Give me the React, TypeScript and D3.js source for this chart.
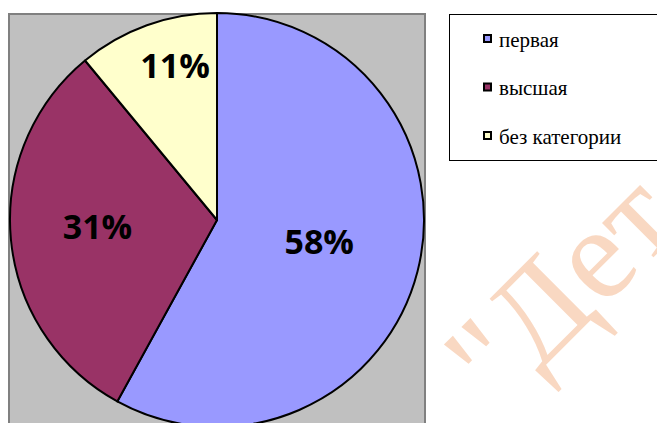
import React from 'react';
import * as d3 from 'd3';

// категории и доли (%)
const categories = ['первая', 'высшая', 'без категории'];
const shares = [58, 31, 11];
const colors = ['#9999FF', '#993366', '#FFFFCC'];
// радиус подписи как доля радиуса и сдвиг по x (подобрано по картинке)
const labelRadius = [0.51, 0.58, 0.77];
const labelShiftX = [0, 0, 12];

const W = 657;
const H = 423;

const App: React.FC = () => {
  const cx = 217;
  const cy = 220;
  const r = 207;

  const pie = d3.pie<number>().sort(null).value(d => d);
  const arcs = pie(shares);
  const arc = d3.arc<d3.PieArcDatum<number>>().innerRadius(0).outerRadius(r);

  const total = d3.sum(shares);

  // позиции легенды
  const legendY = d3.scalePoint<string>().domain(categories).range([38.5, 135.5]);

  return (
    <div style={{ position: 'absolute', left: 0, top: 0 }}>
      <svg width={W} height={H} style={{ display: 'block' }}>
        <rect width={W} height={H} fill="#ffffff" />

        {/* водяной знак */}
        <text
          transform="rotate(-45)"
          x={62}
          y={644}
          fontFamily="Liberation Serif"
          fontSize={132}
          fill="#F9D8C2"
        >
          {'"Дет'}
        </text>

        {/* область построения */}
        <rect x={9} y={14} width={416} height={430} fill="#C0C0C0" stroke="#808080" strokeWidth={2} />

        <g transform={`translate(${cx},${cy})`}>
          {arcs.map((a, i) => (
            <path key={i} d={arc(a) || ''} fill={colors[i]} stroke="#000" strokeWidth={2} strokeLinejoin="round" />
          ))}
          {arcs.map((a, i) => {
            const mid = (a.startAngle + a.endAngle) / 2;
            const lr = r * labelRadius[i];
            const x = Math.sin(mid) * lr + labelShiftX[i];
            const y = -Math.cos(mid) * lr;
            return (
              <text
                key={'l' + i}
                x={x}
                y={y}
                dy="0.24em"
                textAnchor="middle"
                fontFamily="Open Sans"
                fontWeight="bold"
                fontSize={34}
                fill="#000"
              >
                {`${Math.round((a.value / total) * 100)}%`}
              </text>
            );
          })}
        </g>

        {/* легенда */}
        <rect x={449.5} y={14.5} width={220} height={146} fill="#fff" stroke="#000" strokeWidth={1} />
        {categories.map((c, i) => {
          const y = legendY(c) || 0;
          return (
            <g key={c}>
              <rect x={484} y={y - 3.5} width={7} height={7} fill={colors[i]} stroke="#000" strokeWidth={2} />
              <text x={499} y={y + 8} fontFamily="Liberation Serif" fontSize={21} fill="#000">
                {c}
              </text>
            </g>
          );
        })}
      </svg>
    </div>
  );
};

export default App;
